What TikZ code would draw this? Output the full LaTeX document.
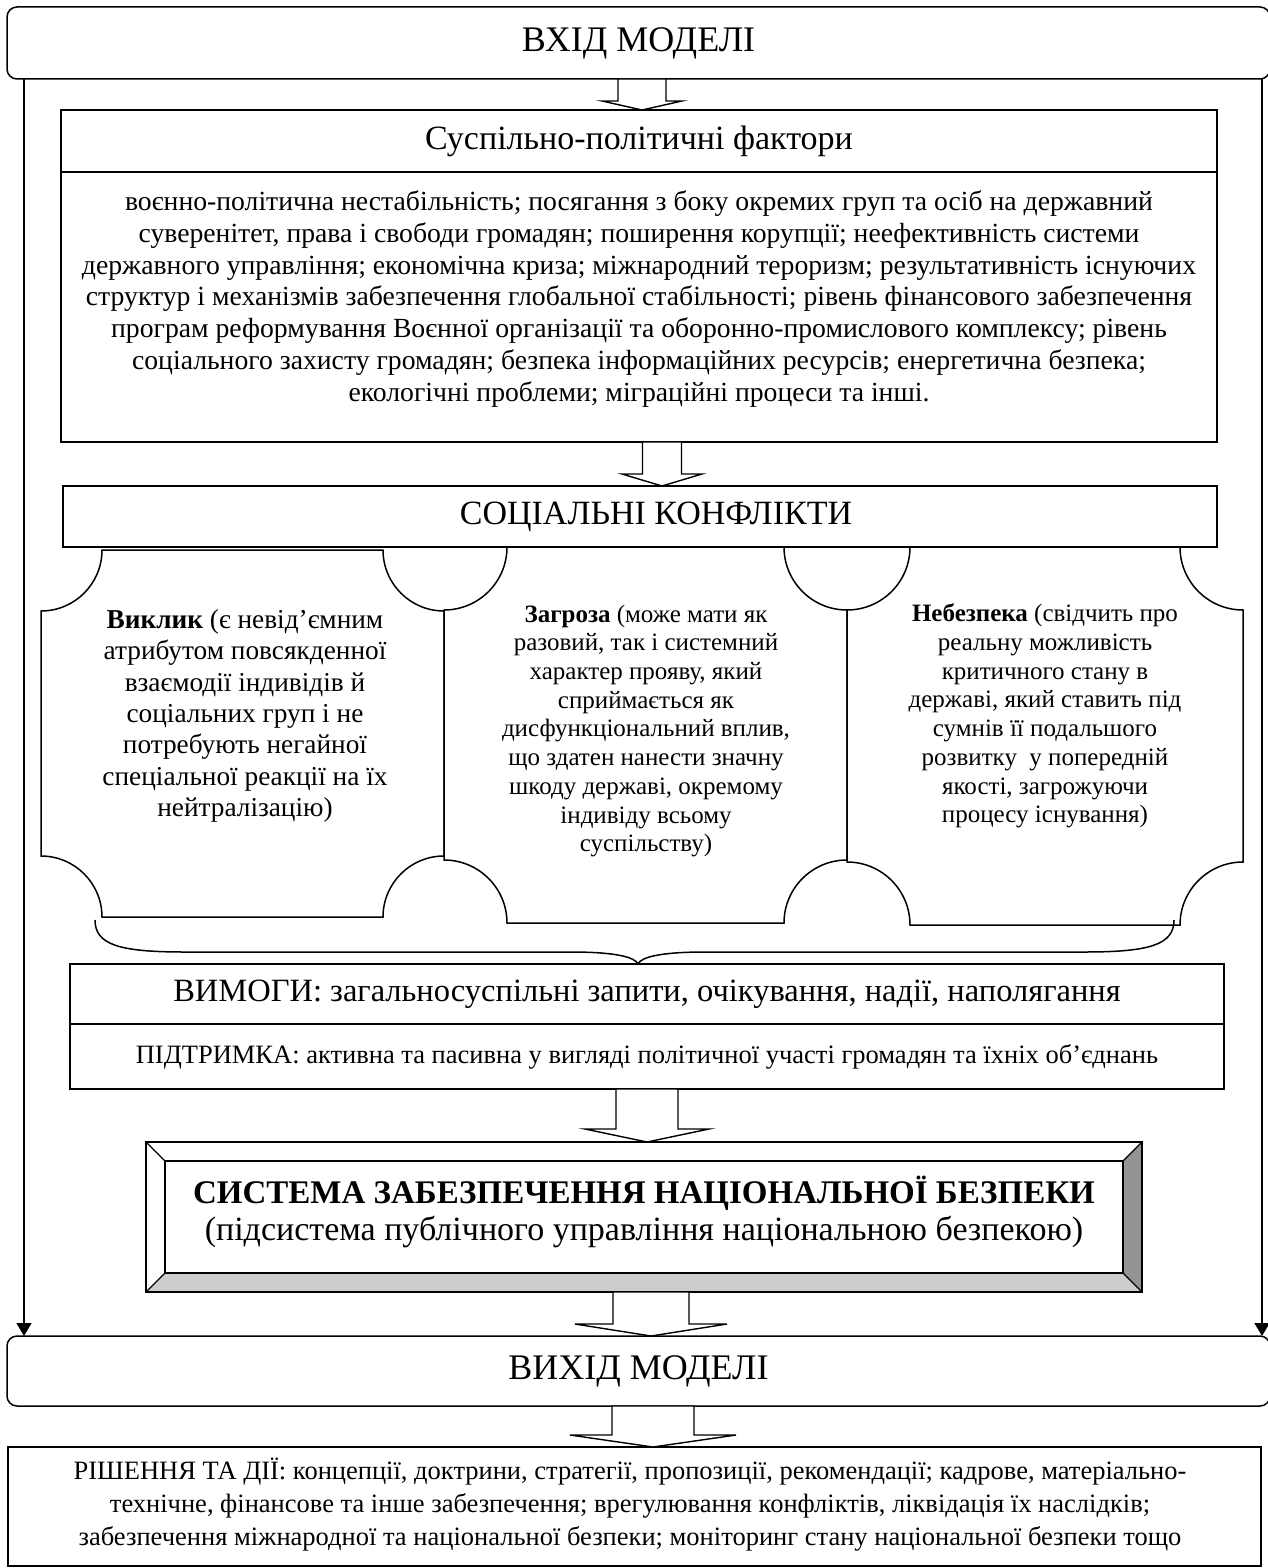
\documentclass[tikz,border=0pt]{standalone}
\usepackage{fontspec}
\setmainfont{Liberation Serif}
\usetikzlibrary{calc,arrows.meta}
\newcommand\fsz[2]{\fontsize{#1}{#2}\selectfont}
% hollow block arrow from node #1 (south) to node #2 (north) at x=#3
\newcommand\blockarr[6]{%
  \coordinate (ba) at (#3,0);
  \draw[harr] ($(#1.south -| ba)+(-#4,0)$) -- ($(#1.south -| ba)+(#4,0)$)
    -- ($(#2.north -| ba)+(#4,-#6)$) -- ($(#2.north -| ba)+(#5,-#6)$)
    -- (#2.north -| ba) -- ($(#2.north -| ba)+(-#5,-#6)$)
    -- ($(#2.north -| ba)+(-#4,-#6)$) -- cycle;}
% plaque shape (concave quarter-circle corners)
\newcommand\plaque[5]{%
  \draw[line width=1.5pt] ({#1+#5},#2) -- ({#3-#5},#2)
  .. controls ({#3-#5},{#2+0.5523*#5}) and ({#3-0.5523*#5},{#2+#5}) .. (#3,{#2+#5})
  -- (#3,{#4-#5})
  .. controls ({#3-0.5523*#5},{#4-#5}) and ({#3-#5},{#4-0.5523*#5}) .. ({#3-#5},#4)
  -- ({#1+#5},#4)
  .. controls ({#1+#5},{#4-0.5523*#5}) and ({#1+0.5523*#5},{#4-#5}) .. (#1,{#4-#5})
  -- (#1,{#2+#5})
  .. controls ({#1+0.5523*#5},{#2+#5}) and ({#1+#5},{#2+0.5523*#5}) .. ({#1+#5},#2) -- cycle;}
\begin{document}
\begin{tikzpicture}[x=1pt,y=-1pt,
  box/.style={draw, line width=1.5pt, inner sep=0pt, outer sep=0pt, align=center},
  txt/.style={align=center, inner sep=0pt},
  harr/.style={draw, line width=1.4pt, fill=white, line join=miter},
  framearrow/.style={line width=1.6pt, -{Triangle[length=13pt,width=15pt]}}]
\useasboundingbox (0,0) rectangle (1268,1568);

% input / output
\node[box, rounded corners=10pt, minimum width=1263pt, minimum height=72pt, font=\fsz{36}{40}] (in) at (638.5,43) {ВХІД МОДЕЛІ};
\node[box, rounded corners=10pt, minimum width=1263pt, minimum height=70pt, font=\fsz{36}{40}] (out) at (638.5,1371) {ВИХІД МОДЕЛІ};

% factors
\node[box, minimum width=1156pt, minimum height=62pt, font=\fsz{34}{38}] (fh) at (639,141) {Суспільно-політичні фактори};
\node[box, minimum width=1156pt, minimum height=270pt] (fc) at (639,307) {};
\node[txt, font=\fsz{27.7}{31.8}] (fctext) at (639,299) {воєнно-політична нестабільність; посягання з боку окремих груп та осіб на державний\\
суверенітет, права і свободи громадян; поширення корупції; неефективність системи\\
державного управління; економічна криза; міжнародний тероризм; результативність існуючих\\
структур і механізмів забезпечення глобальної стабільності; рівень фінансового забезпечення\\
програм реформування Воєнної організації та оборонно-промислового комплексу; рівень\\
соціального захисту громадян; безпека інформаційних ресурсів; енергетична безпека;\\
екологічні проблеми; міграційні процеси та інші.};

% social conflicts
\node[box, minimum width=1154pt, minimum height=61pt] (soc) at (640,516.5) {};
\node[txt, font=\fsz{34}{38}] (soctext) at (656,517) {СОЦІАЛЬНІ КОНФЛІКТИ};

% plaques
\plaque{41}{550}{444}{917}{61}
\plaque{444}{547}{847}{923}{63}
\plaque{847}{547}{1243}{925}{63}
\node[txt, font=\fsz{27.3}{31.4}] (p1) at (245,716) {\textbf{Виклик} (є невід’ємним\\ атрибутом повсякденної\\ взаємодії індивідів й\\ соціальних груп і не\\ потребують негайної\\ спеціальної реакції на їх\\ нейтралізацію)};
\node[txt, font=\fsz{25}{28.7}] (p2) at (646,731) {\textbf{Загроза} (може мати як\\ разовий, так і системний\\ характер прояву, який\\ сприймається як\\ дисфункціональний вплив,\\ що здатен нанести значну\\ шкоду державі, окремому\\ індивіду всьому\\ суспільству)};
\node[txt, font=\fsz{25}{28.7}] (p3) at (1045,716) {\textbf{Небезпека} (свідчить про\\ реальну можливість\\ критичного стану в\\ державі, який ставить під\\ сумнів її подальшого\\ розвитку\ \ у попередній\\ якості, загрожуючи\\ процесу існування)};

% brace
\draw[line width=1.5pt] (95,920) .. controls (95,945) and (120,952) .. (185,952) -- (571,952)
  .. controls (615,952) and (635,957) .. (638,964)
  .. controls (641,957) and (661,952) .. (705,952) -- (1084,952)
  .. controls (1149,952) and (1174,945) .. (1174,920);

% demands / support
\node[box, minimum width=1154pt, minimum height=60pt, font=\fsz{32.5}{36}] (vim) at (647,994) {ВИМОГИ: загальносуспільні запити, очікування, надії, наполягання};
\node[box, minimum width=1154pt, minimum height=65pt, font=\fsz{26.5}{30}] (pid) at (647,1056.5) {ПІДТРИМКА: активна та пасивна у вигляді політичної участі громадян та їхніх об’єднань};

% bevel system box
\fill[black!20] (146,1292) -- (1142,1292) -- (1123,1273) -- (165,1273) -- cycle;
\fill[black!42] (1142,1142) -- (1142,1292) -- (1123,1273) -- (1123,1161) -- cycle;
\draw[line width=1.5pt] (146,1142) rectangle (1142,1292);
\draw[line width=1.5pt] (165,1161) rectangle (1123,1273);
\draw[line width=1.2pt] (146,1142) -- (165,1161) (1142,1142) -- (1123,1161) (146,1292) -- (165,1273) (1142,1292) -- (1123,1273);
\node[inner sep=0pt, outer sep=0pt, minimum width=996pt, minimum height=150pt] (bev) at (644,1217) {};
\node[txt, font=\fsz{33}{37}] (sys) at (644,1212) {\textbf{СИСТЕМА ЗАБЕЗПЕЧЕННЯ НАЦІОНАЛЬНОЇ БЕЗПЕКИ}\\ \fsz{34}{37}(підсистема публічного управління національною безпекою)};

% result
\node[box, minimum width=1253pt, minimum height=119pt] (res) at (634.5,1506.5) {};
\node[txt, font=\fsz{26.5}{33}] (restext) at (630,1505) {РІШЕННЯ ТА ДІЇ: концепції, доктрини, стратегії, пропозиції, рекомендації; кадрове, матеріально-\\
технічне, фінансове та інше забезпечення; врегулювання конфліктів, ліквідація їх наслідків;\\
забезпечення міжнародної та національної безпеки; моніторинг стану національної безпеки тощо};

% frame side arrows
\coordinate (L) at (24,0);
\coordinate (R) at (1262,0);
\draw[framearrow] (in.south -| L) -- (out.north -| L);
\draw[framearrow] (in.south -| R) -- (out.north -| R);

% block arrows
\blockarr{in}{fh}{642}{24}{40}{9}
\blockarr{fc}{soc}{662}{19.5}{40}{12}
\blockarr{pid}{bev}{647}{31}{62}{13}
\blockarr{bev}{out}{651}{38}{76}{12}
\blockarr{out}{res}{653}{41}{83}{12}
\end{tikzpicture}
\end{document}
